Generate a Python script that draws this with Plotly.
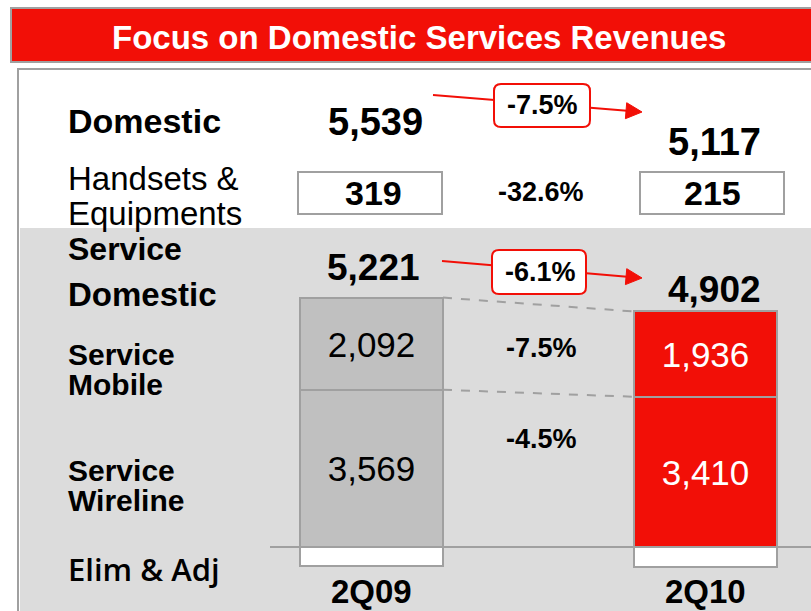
import plotly.graph_objects as go

# ---------------- data ----------------
quarters = ["2Q09", "2Q10"]
domestic_total = ["5,539", "5,117"]
handsets = ["319", "215"]
service_domestic = ["5,221", "4,902"]
service_mobile = [2092, 1936]
service_wireline = [3569, 3410]
elim_adj = [-440, -444]
chg_domestic = "-7.5%"
chg_handsets = "-32.6%"
chg_service = "-6.1%"
chg_mobile = "-7.5%"
chg_wireline = "-4.5%"
row_labels = ["Domestic", "Handsets &", "Equipments", "Service", "Domestic",
              "Service", "Mobile", "Service", "Wireline", "Elim & Adj"]
title_text = "Focus on Domestic Services Revenues"

W, H = 811, 611
RED = "#f20f07"
GREY_BAR = "#c0c0c0"
EDGE = "#a0a0a0"
FONT = "Liberation Sans, Arial, sans-serif"


def px(x):
    return x / W


def py(y):
    return 1 - y / H


fig = go.Figure()

bar_w = 0.428
fig.add_trace(go.Bar(
    x=[0, 1], y=service_wireline, width=bar_w,
    marker=dict(color=[GREY_BAR, RED], line=dict(color=EDGE, width=2)),
    text=[f"{v:,}" for v in service_wireline], textposition="inside",
    insidetextanchor="middle",
    textfont=dict(family=FONT, size=35, color=["black", "white"]),
    hoverinfo="skip", showlegend=False))
fig.add_trace(go.Bar(
    x=[0, 1], y=service_mobile, width=bar_w,
    marker=dict(color=[GREY_BAR, RED], line=dict(color=EDGE, width=2)),
    text=[f"{v:,}" for v in service_mobile], textposition="inside",
    insidetextanchor="middle",
    textfont=dict(family=FONT, size=35, color=["black", "white"]),
    hoverinfo="skip", showlegend=False))
fig.add_trace(go.Bar(
    x=[0, 1], y=elim_adj, width=bar_w,
    marker=dict(color="white", line=dict(color=EDGE, width=2)),
    hoverinfo="skip", showlegend=False))

shapes = []
# background panel
shapes.append(dict(type="rect", xref="paper", yref="paper", x0=px(18), x1=1.02,
                   y0=-0.02, y1=py(69), fillcolor="white",
                   line=dict(color=EDGE, width=2), layer="below"))
shapes.append(dict(type="rect", xref="paper", yref="paper", x0=px(20), x1=1.02,
                   y0=-0.02, y1=py(228), fillcolor="#dcdcdc",
                   line=dict(width=0), layer="below"))
# title bar
shapes.append(dict(type="rect", xref="paper", yref="paper", x0=px(11), x1=1.02,
                   y0=py(62), y1=py(8), fillcolor=RED,
                   line=dict(color=EDGE, width=2), layer="below"))
# baseline
shapes.append(dict(type="line", xref="paper", yref="y", x0=px(270), x1=1.0,
                   y0=0, y1=0, line=dict(color=EDGE, width=2), layer="above"))
# dashed connectors between bars
tops = [m + w for m, w in zip(service_mobile, service_wireline)]
shapes.append(dict(type="line", xref="x", yref="y", x0=bar_w / 2, x1=1 - bar_w / 2,
                   y0=tops[0], y1=tops[1], line=dict(color=EDGE, width=2, dash="dash"),
                   layer="below"))
shapes.append(dict(type="line", xref="x", yref="y", x0=bar_w / 2, x1=1 - bar_w / 2,
                   y0=service_wireline[0], y1=service_wireline[1],
                   line=dict(color=EDGE, width=2, dash="dash"), layer="below"))
# handset boxes
for x0, x1 in [(298, 442), (640, 784)]:
    shapes.append(dict(type="rect", xref="paper", yref="paper", x0=px(x0), x1=px(x1),
                       y0=py(214), y1=py(172), fillcolor="white",
                       line=dict(color=EDGE, width=2), layer="above"))


def arrow(x0, y0, x1, y1):
    import math
    shapes.append(dict(type="line", xref="paper", yref="paper", x0=px(x0), y0=py(y0),
                       x1=px(x1 - 12), y1=py(y1 - 12 * (y1 - y0) / (x1 - x0)),
                       line=dict(color=RED, width=2), layer="above"))
    ang = math.atan2(y1 - y0, x1 - x0)
    L, hw = 16, 8
    bx, by = x1 - L * math.cos(ang), y1 - L * math.sin(ang)
    p1 = (bx - hw * math.sin(ang), by + hw * math.cos(ang))
    p2 = (bx + hw * math.sin(ang), by - hw * math.cos(ang))
    path = (f"M{px(x1)},{py(y1)} L{px(p1[0])},{py(p1[1])} "
            f"L{px(p2[0])},{py(p2[1])} Z")
    shapes.append(dict(type="path", xref="paper", yref="paper", path=path,
                       fillcolor=RED, line=dict(color=RED, width=1), layer="above"))


def rbox(x0, y0, x1, y1, r=7):
    path = (f"M{px(x0 + r)},{py(y0)} L{px(x1 - r)},{py(y0)} "
            f"Q{px(x1)},{py(y0)} {px(x1)},{py(y0 + r)} "
            f"L{px(x1)},{py(y1 - r)} Q{px(x1)},{py(y1)} {px(x1 - r)},{py(y1)} "
            f"L{px(x0 + r)},{py(y1)} Q{px(x0)},{py(y1)} {px(x0)},{py(y1 - r)} "
            f"L{px(x0)},{py(y0 + r)} Q{px(x0)},{py(y0)} {px(x0 + r)},{py(y0)} Z")
    shapes.append(dict(type="path", xref="paper", yref="paper", path=path,
                       fillcolor="white", line=dict(color=RED, width=2), layer="above"))


arrow(433, 95, 642, 112)
rbox(494, 84, 590, 127)
arrow(442, 261, 642, 278)
rbox(492, 250, 586, 294)

annotations = []


def txt(s, x, y, size, bold=False, color="black", anchor="left", family=FONT):
    annotations.append(dict(text=f"<b>{s}</b>" if bold else s, x=px(x), y=py(y),
                            xref="paper", yref="paper", xanchor=anchor, yanchor="middle",
                            showarrow=False,
                            font=dict(family=family, size=size, color=color)))


txt(title_text, 419, 37, 33, bold=True, color="white", anchor="center")

# left labels
txt(row_labels[0], 66, 121, 34, bold=True)
txt(row_labels[1], 66, 178, 33)
txt(row_labels[2], 66, 213, 33)
txt(row_labels[3], 66, 249, 32, bold=True)
txt(row_labels[4], 66, 294, 33, bold=True)
txt(row_labels[5], 66, 354, 30, bold=True)
txt(row_labels[6], 66, 384, 30, bold=True)
txt(row_labels[7], 66, 470, 30, bold=True)
txt(row_labels[8], 66, 500, 30, bold=True)
annotations.append(dict(text=row_labels[9], x=px(66), y=py(569), xref="paper",
                        yref="paper", xanchor="left", yanchor="middle", showarrow=False,
                        font=dict(family="Open Sans, sans-serif", size=31, weight=600,
                                  color="black")))

# values
txt(domestic_total[0], 375, 122, 38, bold=True, anchor="center")
txt(domestic_total[1], 714, 142, 38, bold=True, anchor="center")
txt(handsets[0], 373, 193, 34, bold=True, anchor="center")
txt(handsets[1], 712, 193, 34, bold=True, anchor="center")
txt(chg_handsets, 541, 192, 27, bold=True, anchor="center")
txt(chg_domestic, 542, 105, 27, bold=True, anchor="center")
txt(service_domestic[0], 373, 267, 37, bold=True, anchor="center")
txt(service_domestic[1], 714, 289, 37, bold=True, anchor="center")
txt(chg_service, 540, 272, 27, bold=True, anchor="center")
txt(chg_mobile, 541, 348, 27, bold=True, anchor="center")
txt(chg_wireline, 541, 439, 27, bold=True, anchor="center")
for i, q in enumerate(quarters):
    annotations.append(dict(text=f"<b>{q}</b>", x=i, y=py(591), xref="x", yref="paper",
                            xanchor="center", yanchor="middle", showarrow=False,
                            font=dict(family=FONT, size=33, color="black")))

# axis ranges mapping data to pixels (baseline at y=547 px, centers at 371.5 and 705.5 px)
upp = 22.7
xr = [-371.5 / 334, (W - 371.5) / 334]
yr = [-(H - 547) * upp, 547 * upp]

fig.update_layout(
    width=W, height=H, margin=dict(l=0, r=0, t=0, b=0),
    paper_bgcolor="white", plot_bgcolor="rgba(0,0,0,0)",
    barmode="relative", bargap=0,
    xaxis=dict(range=xr, visible=False, fixedrange=True),
    yaxis=dict(range=yr, visible=False, fixedrange=True),
    shapes=shapes, annotations=annotations,
    uniformtext=dict(mode=False),
)

fig.write_html("out.html", config={"displayModeBar": False},
               post_script="document.body.style.margin='0px';"
                           "document.body.style.overflow='hidden';")
